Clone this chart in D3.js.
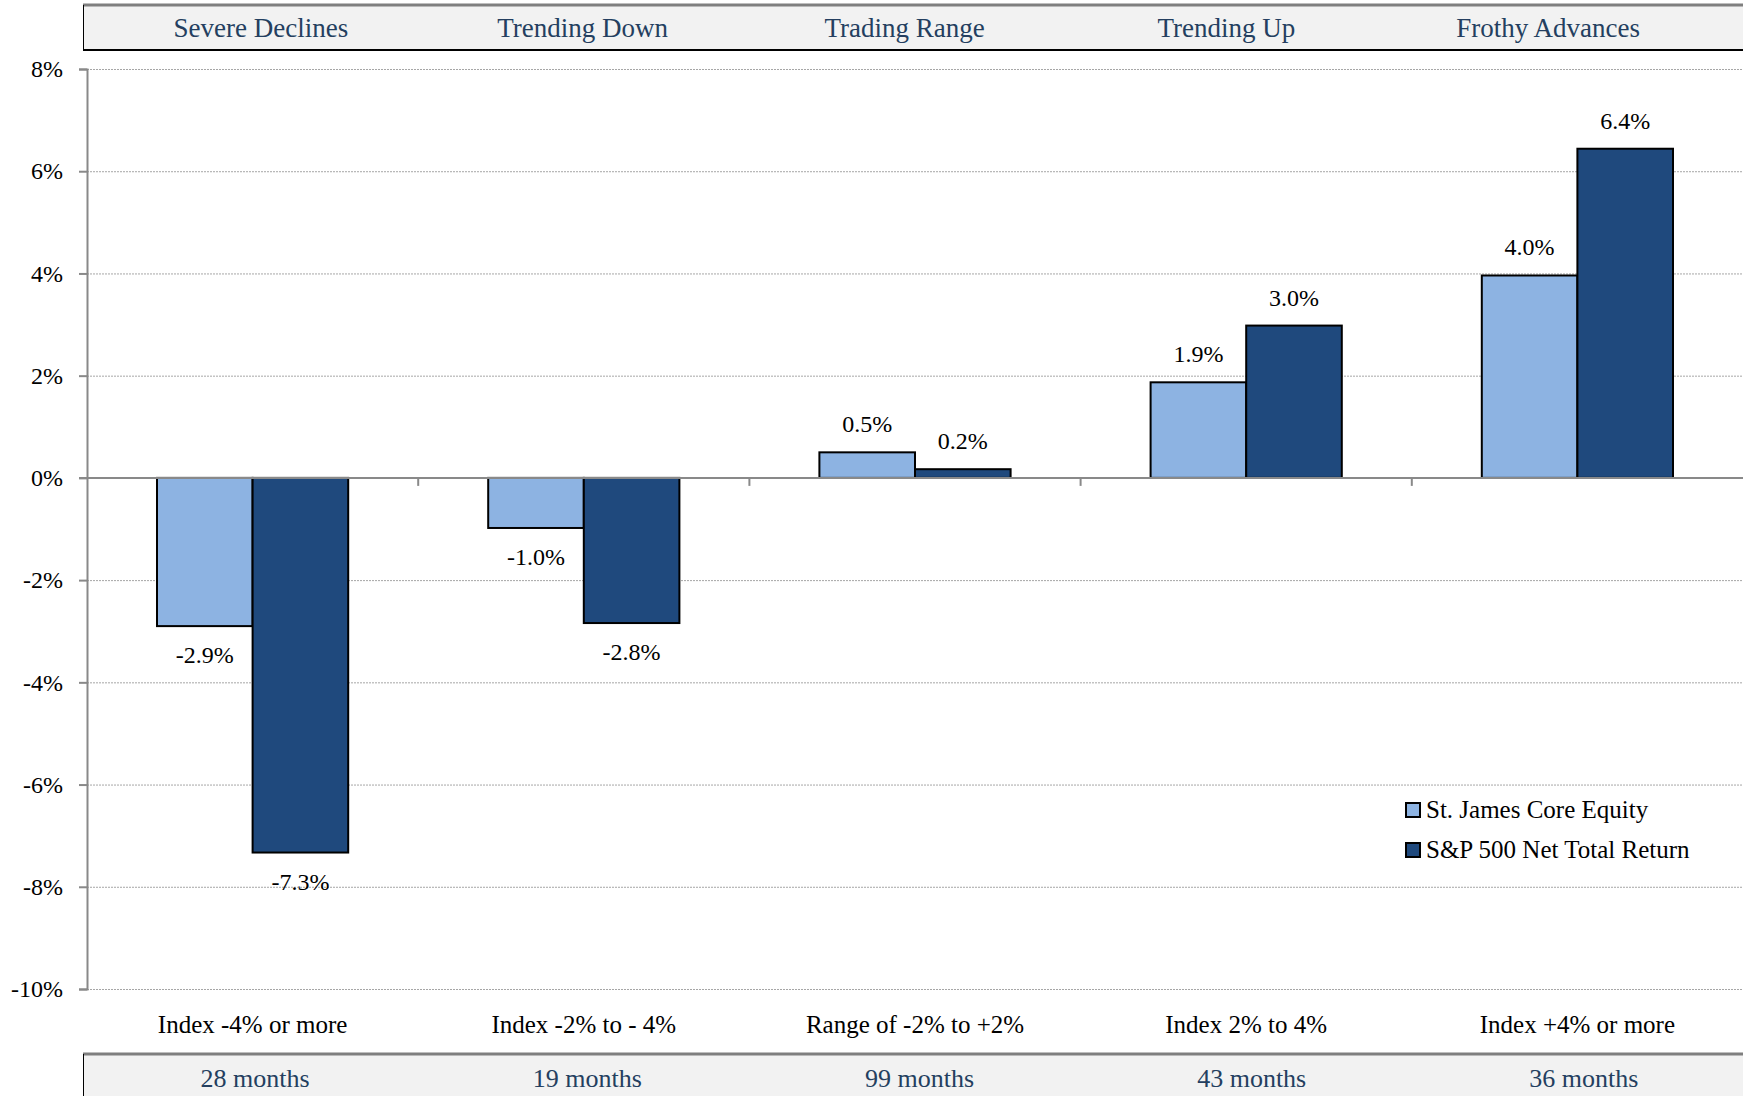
<!DOCTYPE html>
<html>
<head>
<meta charset="utf-8">
<script src="https://cdn.jsdelivr.net/npm/d3@7"></script>
<style>
  body { margin: 0; background: #fff; }
  text { font-family: "Liberation Serif", "Times New Roman", serif; }
</style>
</head>
<body>
<script>
// chart data
var categories = ["Severe Declines", "Trending Down", "Trading Range", "Trending Up", "Frothy Advances"];
var rangeLabels = ["Index -4% or more", "Index -2% to - 4%", "Range of -2% to +2%", "Index 2% to 4%", "Index +4% or more"];
var monthLabels = ["28 months", "19 months", "99 months", "43 months", "36 months"];
var seriesNames = ["St. James Core Equity", "S&P 500 Net Total Return"];
var stJames = [-2.9, -0.98, 0.5, 1.87, 3.96];
var sp500 = [-7.33, -2.84, 0.17, 2.98, 6.44];
var yTicks = [-10, -8, -6, -4, -2, 0, 2, 4, 6, 8];

var width = 1743,
    height = 1096,
    colors = ["#8db3e2", "#1f497d"],
    headColor = "#243f60";

var svg = d3.select("body").append("svg")
    .attr("width", width)
    .attr("height", height);

var x = d3.scaleBand()
    .domain(categories)
    .range([87, 1743]);

var x1 = d3.scaleBand()
    .domain(seriesNames)
    .range([70, x.bandwidth() - 70]);

var y = d3.scaleLinear()
    .domain([-10, 8])
    .range([989, 69]);

var color = d3.scaleOrdinal().domain(seriesNames).range(colors);

// header strip
var head = svg.append("g");
head.append("rect")
    .attr("x", 83).attr("y", 5)
    .attr("width", width).attr("height", 45)
    .attr("fill", "#f2f2f2");
head.append("line").attr("x1", 83).attr("x2", width).attr("y1", 5).attr("y2", 5)
    .attr("stroke", "#7f7f7f").attr("stroke-width", 3);
head.append("line").attr("x1", 83).attr("x2", width).attr("y1", 50).attr("y2", 50)
    .attr("stroke", "#000").attr("stroke-width", 2);
head.append("line").attr("x1", 83.5).attr("x2", 83.5).attr("y1", 5).attr("y2", 50)
    .attr("stroke", "#000").attr("stroke-width", 1);

var xHead = d3.scaleBand().domain(categories).range([100, 1709]);
head.selectAll("text.head")
    .data(categories)
    .enter().append("text")
    .attr("class", "head")
    .attr("x", function (d) { return xHead(d) + xHead.bandwidth() / 2; })
    .attr("y", 37)
    .attr("text-anchor", "middle")
    .attr("font-size", 27)
    .attr("fill", headColor)
    .text(function (d) { return d; });

// gridlines
svg.append("g")
    .selectAll("line")
    .data(yTicks.filter(function (d) { return d !== 0; }))
    .enter().append("line")
    .attr("x1", 87).attr("x2", width)
    .attr("y1", function (d) { return y(d) + 0.5; })
    .attr("y2", function (d) { return y(d) + 0.5; })
    .attr("stroke", "#a6a6a6")
    .attr("stroke-width", 1)
    .attr("stroke-dasharray", "2,1");

// y axis
var yAxis = svg.append("g")
    .attr("transform", "translate(87,0)")
    .call(d3.axisLeft(y)
        .tickValues(yTicks)
        .tickSize(8)
        .tickPadding(16)
        .tickFormat(function (d) { return d + "%"; }));
yAxis.select(".domain").attr("stroke", "#898989").attr("stroke-width", 2);
yAxis.selectAll(".tick line").attr("stroke", "#898989").attr("stroke-width", 2);
yAxis.selectAll(".tick text")
    .attr("font-family", "Liberation Serif, serif")
    .attr("font-size", 24)
    .attr("fill", "#000");

// bars
var groups = svg.append("g")
    .selectAll("g")
    .data(categories)
    .enter().append("g")
    .attr("transform", function (d) { return "translate(" + x(d) + ",0)"; });

var rows = function (d, i) {
    return [
        { name: seriesNames[0], value: stJames[i] },
        { name: seriesNames[1], value: sp500[i] }
    ];
};

groups.selectAll("rect")
    .data(rows)
    .enter().append("rect")
    .attr("x", function (d) { return x1(d.name); })
    .attr("width", x1.bandwidth())
    .attr("y", function (d) { return y(Math.max(0, d.value)); })
    .attr("height", function (d) { return Math.abs(y(d.value) - y(0)); })
    .attr("fill", function (d) { return color(d.name); })
    .attr("stroke", "#000")
    .attr("stroke-width", 2);

groups.selectAll("text")
    .data(rows)
    .enter().append("text")
    .attr("x", function (d) { return x1(d.name) + x1.bandwidth() / 2; })
    .attr("y", function (d) { return d.value >= 0 ? y(d.value) - 20 : y(d.value) + 37; })
    .attr("text-anchor", "middle")
    .attr("font-size", 24)
    .attr("fill", "#000")
    .text(function (d) { return d.value.toFixed(1) + "%"; });

// zero line with category ticks
var zero = svg.append("g");
zero.append("line")
    .attr("x1", 79).attr("x2", width)
    .attr("y1", y(0)).attr("y2", y(0))
    .attr("stroke", "#898989").attr("stroke-width", 2);
zero.selectAll("line.tk")
    .data(categories.slice(1))
    .enter().append("line")
    .attr("class", "tk")
    .attr("x1", function (d) { return x(d); })
    .attr("x2", function (d) { return x(d); })
    .attr("y1", y(0)).attr("y2", y(0) + 8)
    .attr("stroke", "#898989").attr("stroke-width", 2);

// range labels under the plot
svg.append("g")
    .selectAll("text")
    .data(rangeLabels)
    .enter().append("text")
    .attr("x", function (d, i) { return x(categories[i]) + x.bandwidth() / 2; })
    .attr("y", 1033)
    .attr("text-anchor", "middle")
    .attr("font-size", 25)
    .attr("fill", "#000")
    .text(function (d) { return d; });

// month strip
var foot = svg.append("g");
foot.append("rect")
    .attr("x", 83).attr("y", 1054)
    .attr("width", width).attr("height", 50)
    .attr("fill", "#f2f2f2");
foot.append("line").attr("x1", 83).attr("x2", width).attr("y1", 1054).attr("y2", 1054)
    .attr("stroke", "#7f7f7f").attr("stroke-width", 3);
foot.append("line").attr("x1", 83.5).attr("x2", 83.5).attr("y1", 1054).attr("y2", height)
    .attr("stroke", "#000").attr("stroke-width", 1);

var xFoot = d3.scaleBand().domain(categories).range([89, 1750]);
foot.selectAll("text")
    .data(monthLabels)
    .enter().append("text")
    .attr("x", function (d, i) { return xFoot(categories[i]) + xFoot.bandwidth() / 2; })
    .attr("y", 1087)
    .attr("text-anchor", "middle")
    .attr("font-size", 26)
    .attr("fill", headColor)
    .text(function (d) { return d; });

// legend
var legend = svg.append("g")
    .attr("transform", "translate(1406,803)")
    .selectAll("g")
    .data(seriesNames)
    .enter().append("g")
    .attr("transform", function (d, i) { return "translate(0," + i * 40 + ")"; });

legend.append("rect")
    .attr("width", 14).attr("height", 14)
    .attr("fill", function (d) { return color(d); })
    .attr("stroke", "#000")
    .attr("stroke-width", 2);

legend.append("text")
    .attr("x", 20)
    .attr("y", 15)
    .attr("font-size", 25)
    .attr("fill", "#000")
    .text(function (d) { return d; });
</script>
</body>
</html>
